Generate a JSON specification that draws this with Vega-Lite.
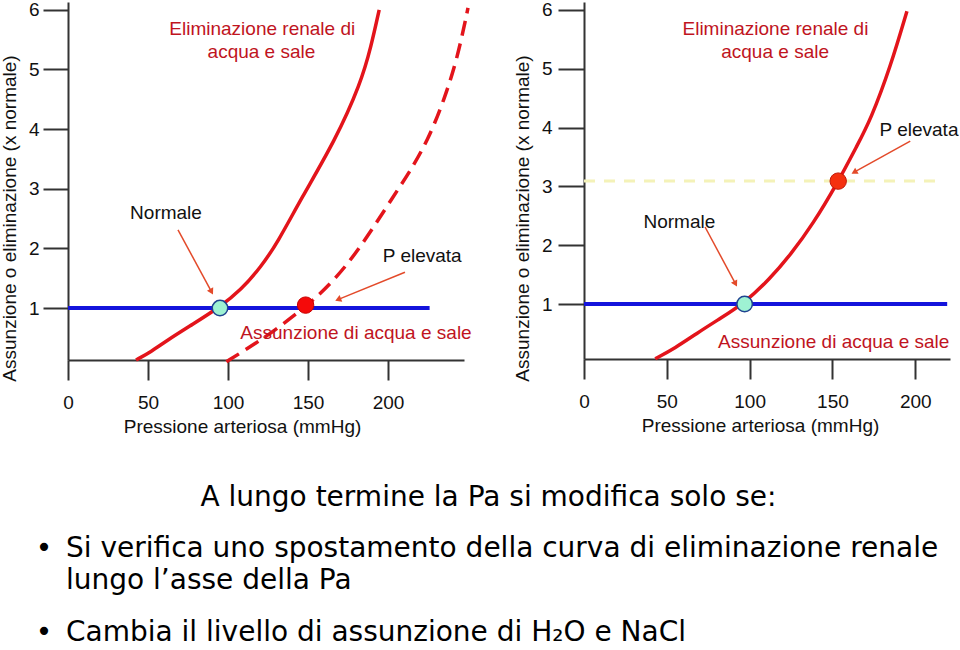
{
  "$schema": "https://vega.github.io/schema/vega-lite/v6.json",
  "background": "white",
  "padding": 0,
  "config": {
    "view": {"stroke": null},
    "font": "Liberation Sans",
    "axis": {
      "grid": false, "tickWidth": 2, "tickColor": "#333333", "domainColor": "#333333", "domainWidth": 2,
      "labelFont": "Liberation Sans", "labelFontSize": 19, "labelColor": "#111111",
      "titleFont": "Liberation Sans", "titleFontSize": 19, "titleFontWeight": "normal", "titleColor": "#111111",
      "labelFlush": false, "labelOverlap": false
    },
    "axisX": {"tickSize": 20, "labelPadding": 13, "titlePadding": 5},
    "axisY": {"tickSize": 25, "labelPadding": 4, "titlePadding": 9}
  },
  "datasets": {
    "left_intake": [{"p": 0, "v": 1.0}, {"p": 226, "v": 1.0}],
    "left_solid": [
      {"p": 42.5, "v": 0.13}, {"p": 52, "v": 0.27}, {"p": 62, "v": 0.46}, {"p": 78, "v": 0.73},
      {"p": 95, "v": 1.02}, {"p": 108, "v": 1.3}, {"p": 120.6, "v": 1.69}, {"p": 131, "v": 2.1},
      {"p": 145.6, "v": 2.83}, {"p": 167, "v": 3.81}, {"p": 183, "v": 4.77}, {"p": 189.4, "v": 5.38},
      {"p": 194.5, "v": 6.0}
    ],
    "left_dashed": [
      {"p": 99, "v": 0.1}, {"p": 112, "v": 0.32}, {"p": 127, "v": 0.58}, {"p": 150, "v": 1.05},
      {"p": 166, "v": 1.45}, {"p": 183, "v": 2.02}, {"p": 204, "v": 2.9}, {"p": 214, "v": 3.3},
      {"p": 225, "v": 3.82}, {"p": 235, "v": 4.48}, {"p": 243.5, "v": 5.2}, {"p": 250, "v": 6.03}
    ],
    "left_points": [
      {"state": "normale", "p": 95, "v": 1.0},
      {"state": "elevata", "p": 148.5, "v": 1.05}
    ],
    "left_arrows": [
      {"arrow": "Normale", "end": "tail", "p": 68.75, "v": 2.31},
      {"arrow": "Normale", "end": "head", "p": 89.4, "v": 1.29},
      {"arrow": "P elevata", "end": "tail", "p": 210.6, "v": 1.6},
      {"arrow": "P elevata", "end": "head", "p": 169.4, "v": 1.15}
    ],
    "left_labels": [
      {"p": 121.4, "v": 5.67, "label": "Eliminazione renale di", "tone": "curve"},
      {"p": 120.9, "v": 5.29, "label": "acqua e sale", "tone": "curve"},
      {"p": 61.25, "v": 2.59, "label": "Normale", "tone": "point"},
      {"p": 221.4, "v": 1.87, "label": "P elevata", "tone": "point"},
      {"p": 180, "v": 0.58, "label": "Assunzione di acqua e sale", "tone": "curve"}
    ],
    "right_intake": [{"p": 0, "v": 1.0}, {"p": 219.3, "v": 1.0}],
    "right_high": [{"p": 0, "v": 3.09}, {"p": 217, "v": 3.09}],
    "right_curve": [
      {"p": 43, "v": 0.07}, {"p": 55, "v": 0.25}, {"p": 68, "v": 0.5}, {"p": 82, "v": 0.75},
      {"p": 97, "v": 1.02}, {"p": 112, "v": 1.42}, {"p": 125, "v": 1.85}, {"p": 138, "v": 2.35},
      {"p": 153.5, "v": 3.08}, {"p": 165, "v": 3.7}, {"p": 173, "v": 4.13}, {"p": 185, "v": 5.03},
      {"p": 195, "v": 5.98}
    ],
    "right_points": [
      {"state": "normale", "p": 97, "v": 1.0},
      {"state": "elevata", "p": 153.5, "v": 3.09}
    ],
    "right_arrows": [
      {"arrow": "Normale", "end": "tail", "p": 73.1, "v": 2.31},
      {"arrow": "Normale", "end": "head", "p": 91.2, "v": 1.36},
      {"arrow": "P elevata", "end": "tail", "p": 197, "v": 3.77},
      {"arrow": "P elevata", "end": "head", "p": 163.7, "v": 3.25}
    ],
    "right_labels": [
      {"p": 115.6, "v": 5.68, "label": "Eliminazione renale di", "tone": "curve"},
      {"p": 115.4, "v": 5.29, "label": "acqua e sale", "tone": "curve"},
      {"p": 57.6, "v": 2.4, "label": "Normale", "tone": "point"},
      {"p": 202.3, "v": 3.96, "label": "P elevata", "tone": "point"},
      {"p": 150.8, "v": 0.36, "label": "Assunzione di acqua e sale", "tone": "curve"}
    ],
    "notes": [
      {"kind": "heading", "line": 0.9, "text": "A lungo termine la Pa si modifica solo se:"},
      {"kind": "bullet", "line": 2.6, "text": "Si verifica uno spostamento della curva di eliminazione renale"},
      {"kind": "continuation", "line": 3.67, "text": "lungo l’asse della Pa"},
      {"kind": "bullet", "line": 5.4, "text": "Cambia il livello di assunzione di H₂O e NaCl"}
    ]
  },
  "vconcat": [
    {
      "hconcat": [
        {
          "width": 396,
          "height": 358,
          "encoding": {
            "x": {"field": "p", "type": "quantitative",
              "scale": {"domain": [0, 247.5], "nice": false, "zero": false},
              "axis": {"title": "Pressione arteriosa (mmHg)", "values": [0, 50, 100, 150, 200], "titleX": 174}},
            "y": {"field": "v", "type": "quantitative",
              "scale": {"domain": [0.13, 6.13], "nice": false, "zero": false},
              "axis": {"title": "Assunzione o eliminazione (x normale)", "values": [1, 2, 3, 4, 5, 6], "titleY": 216}}
          },
          "layer": [
            {"data": {"name": "left_intake"}, "mark": {"type": "line", "color": "#1414dc", "strokeWidth": 4}},
            {"data": {"name": "left_solid"}, "mark": {"type": "line", "color": "#e3141b", "strokeWidth": 3.5, "interpolate": "basis"}},
            {"data": {"name": "left_dashed"}, "mark": {"type": "line", "color": "#e3141b", "strokeWidth": 3.5, "strokeDash": [15, 8], "interpolate": "basis"}},
            {"data": {"name": "left_arrows"}, "mark": {"type": "line", "color": "#e34a2a", "strokeWidth": 1.5},
              "encoding": {"detail": {"field": "arrow"}}},
            {"data": {"name": "left_arrows"}, "transform": [{"filter": "datum.end === 'head' && datum.arrow === 'Normale'"}],
              "mark": {"type": "point", "shape": "triangle", "filled": true, "opacity": 1, "color": "#e34a2a", "size": 50, "angle": 151.6}},
            {"data": {"name": "left_arrows"}, "transform": [{"filter": "datum.end === 'head' && datum.arrow === 'P elevata'"}],
              "mark": {"type": "point", "shape": "triangle", "filled": true, "opacity": 1, "color": "#e34a2a", "size": 50, "angle": 247.8}},
            {"data": {"name": "left_points"}, "transform": [{"filter": "datum.state === 'normale'"}],
              "mark": {"type": "circle", "fill": "#9ef2d3", "stroke": "#1f4390", "strokeWidth": 1.5, "size": 240, "opacity": 1}},
            {"data": {"name": "left_points"}, "transform": [{"filter": "datum.state === 'elevata'"}],
              "mark": {"type": "circle", "fill": "#f50a0a", "stroke": "#c80000", "strokeWidth": 1, "size": 270, "opacity": 1}},
            {"data": {"name": "left_labels"},
              "mark": {"type": "text", "font": "Liberation Sans", "fontSize": 19, "align": "center", "baseline": "middle"},
              "encoding": {"text": {"field": "label"},
                "color": {"field": "tone", "type": "nominal", "scale": {"domain": ["curve", "point"], "range": ["#c0141e", "#111111"]}, "legend": null}}}
          ]
        },
        {
          "width": 366,
          "height": 357,
          "encoding": {
            "x": {"field": "p", "type": "quantitative",
              "scale": {"domain": [0, 221], "nice": false, "zero": false},
              "axis": {"title": "Pressione arteriosa (mmHg)", "values": [0, 50, 100, 150, 200], "titleX": 176}},
            "y": {"field": "v", "type": "quantitative",
              "scale": {"domain": [0.065, 6.136], "nice": false, "zero": false},
              "axis": {"title": "Assunzione o eliminazione (x normale)", "values": [1, 2, 3, 4, 5, 6], "titleY": 216, "tickSize": 26, "labelPadding": 6}}
          },
          "layer": [
            {"data": {"name": "right_high"}, "mark": {"type": "line", "color": "#f4f2b8", "strokeWidth": 3, "strokeDash": [11, 9]}},
            {"data": {"name": "right_intake"}, "mark": {"type": "line", "color": "#1414dc", "strokeWidth": 4}},
            {"data": {"name": "right_curve"}, "mark": {"type": "line", "color": "#e3141b", "strokeWidth": 3.5, "interpolate": "basis"}},
            {"data": {"name": "right_arrows"}, "mark": {"type": "line", "color": "#e34a2a", "strokeWidth": 1.5},
              "encoding": {"detail": {"field": "arrow"}}},
            {"data": {"name": "right_arrows"}, "transform": [{"filter": "datum.end === 'head' && datum.arrow === 'Normale'"}],
              "mark": {"type": "point", "shape": "triangle", "filled": true, "opacity": 1, "color": "#e34a2a", "size": 50, "angle": 151.8}},
            {"data": {"name": "right_arrows"}, "transform": [{"filter": "datum.end === 'head' && datum.arrow === 'P elevata'"}],
              "mark": {"type": "point", "shape": "triangle", "filled": true, "opacity": 1, "color": "#e34a2a", "size": 50, "angle": 240.6}},
            {"data": {"name": "right_points"}, "transform": [{"filter": "datum.state === 'normale'"}],
              "mark": {"type": "circle", "fill": "#9ef2d3", "stroke": "#1f4390", "strokeWidth": 1.5, "size": 240, "opacity": 1}},
            {"data": {"name": "right_points"}, "transform": [{"filter": "datum.state === 'elevata'"}],
              "mark": {"type": "circle", "fill": "#f5300f", "stroke": "#c01a0a", "strokeWidth": 1, "size": 270, "opacity": 1}},
            {"data": {"name": "right_labels"},
              "mark": {"type": "text", "font": "Liberation Sans", "fontSize": 19, "align": "center", "baseline": "middle"},
              "encoding": {"text": {"field": "label"},
                "color": {"field": "tone", "type": "nominal", "scale": {"domain": ["curve", "point"], "range": ["#c0141e", "#111111"]}, "legend": null}}}
          ]
        }
      ],
      "spacing": 38
    },
    {
      "width": 880,
      "height": 174,
      "data": {"name": "notes"},
      "layer": [
        {"transform": [{"filter": "datum.kind === 'heading'"}],
          "mark": {"type": "text", "font": "DejaVu Sans", "fontSize": 28, "align": "center", "baseline": "middle", "color": "#000000"},
          "encoding": {
            "x": {"datum": 47.78, "type": "quantitative", "scale": {"domain": [0, 100]}, "axis": null},
            "y": {"field": "line", "type": "quantitative", "scale": {"domain": [0, 5.8], "reverse": true}, "axis": null},
            "text": {"field": "text"}}},
        {"transform": [{"filter": "datum.kind !== 'heading'"}],
          "mark": {"type": "text", "font": "DejaVu Sans", "fontSize": 28, "align": "left", "baseline": "middle", "color": "#000000"},
          "encoding": {
            "x": {"datum": -0.23, "type": "quantitative", "scale": {"domain": [0, 100]}, "axis": null},
            "y": {"field": "line", "type": "quantitative", "scale": {"domain": [0, 5.8], "reverse": true}, "axis": null},
            "text": {"field": "text"}}},
        {"transform": [{"filter": "datum.kind === 'bullet'"}],
          "mark": {"type": "text", "font": "DejaVu Sans", "fontSize": 28, "align": "center", "baseline": "middle", "color": "#000000"},
          "encoding": {
            "x": {"datum": -2.73, "type": "quantitative", "scale": {"domain": [0, 100]}, "axis": null},
            "y": {"field": "line", "type": "quantitative", "scale": {"domain": [0, 5.8], "reverse": true}, "axis": null},
            "text": {"value": "•"}}}
      ]
    }
  ],
  "spacing": 35
}
